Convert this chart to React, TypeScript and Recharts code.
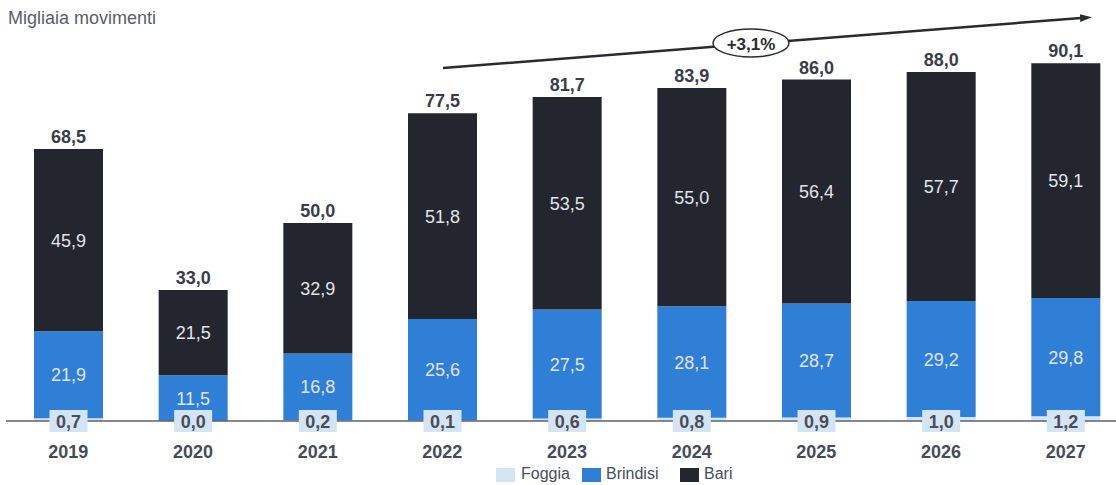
import React from 'react'
import { BarChart, Bar, XAxis, YAxis, LabelList } from 'recharts'

const years = ['2019', '2020', '2021', '2022', '2023', '2024', '2025', '2026', '2027']
const foggia = [0.7, 0.0, 0.2, 0.1, 0.6, 0.8, 0.9, 1.0, 1.2]
const brindisi = [21.9, 11.5, 16.8, 25.6, 27.5, 28.1, 28.7, 29.2, 29.8]
const bari = [45.9, 21.5, 32.9, 51.8, 53.5, 55.0, 56.4, 57.7, 59.1]
const totals = [68.5, 33.0, 50.0, 77.5, 81.7, 83.9, 86.0, 88.0, 90.1]
const cagr = '+3,1%'

const COLORS = {
  Foggia: '#d3e5f5',
  Brindisi: '#2f7fd6',
  Bari: '#23252f',
}

const FONT = '"Liberation Sans", Arial, sans-serif'
const fmt = (v: number) => v.toFixed(1).replace('.', ',')

const data = years.map((year, i) => ({
  year,
  Foggia: foggia[i],
  Brindisi: brindisi[i],
  Bari: bari[i],
}))

const InsideLabel = (props: any) => {
  const { x, y, width, height, value } = props
  return (
    <text
      x={x + width / 2}
      y={y + height / 2}
      dy={6.5}
      textAnchor="middle"
      fill="#e2e4e8"
      fontSize={18}
      fontFamily={FONT}
    >
      {fmt(value)}
    </text>
  )
}

const TotalLabel = (props: any) => {
  const { x, y, width, index } = props
  return (
    <text
      x={x + width / 2}
      y={y - 6}
      textAnchor="middle"
      fill="#3a3d48"
      fontSize={18}
      fontWeight="bold"
      fontFamily={FONT}
    >
      {fmt(totals[index])}
    </text>
  )
}

// Foggia is tiny: its label sits in a pale box on the baseline.
// Drawn from the Brindisi bar so that zero values still get a label.
const FoggiaLabel = (props: any) => {
  const { x, y, width, height, index } = props
  const cx = x + width / 2
  const pxPerUnit = height / brindisi[index]
  const base = y + height + foggia[index] * pxPerUnit
  return (
    <g>
      <rect x={cx - 19} y={base - 11} width={38} height={22} fill={COLORS.Foggia} />
      <text
        x={cx}
        y={base + 6.5}
        textAnchor="middle"
        fill="#4a4d58"
        fontSize={18}
        fontWeight="bold"
        fontFamily={FONT}
      >
        {fmt(foggia[index])}
      </text>
    </g>
  )
}

const YearTick = (props: any) => {
  const { x, y, payload } = props
  return (
    <text
      x={x}
      y={y + 29}
      textAnchor="middle"
      fill="#474b57"
      fontSize={18}
      fontWeight="bold"
      fontFamily={FONT}
    >
      {payload.value}
    </text>
  )
}

const legendItems = [
  { name: 'Foggia', left: 496, textLeft: 521 },
  { name: 'Brindisi', left: 582, textLeft: 606 },
  { name: 'Bari', left: 680, textLeft: 704 },
]

export default function App() {
  return (
    <div style={{ position: 'absolute', left: 0, top: 0, width: 1116, height: 485, background: '#fff', fontFamily: FONT }}>
      <div style={{ position: 'absolute', left: 8, top: 8, fontSize: 18, color: '#5a5d68' }}>Migliaia movimenti</div>

      <BarChart
        width={1116}
        height={485}
        data={data}
        margin={{ top: 24, right: -12, bottom: 24, left: 6 }}
        barSize={69}
      >
        <XAxis
          dataKey="year"
          height={40}
          axisLine={{ stroke: '#5e616b', strokeWidth: 1.5 }}
          tickLine={false}
          tick={<YearTick />}
          interval={0}
        />
        <YAxis hide domain={[0, 100]} />
        <Bar dataKey="Foggia" stackId="a" fill={COLORS.Foggia} isAnimationActive={false} />
        <Bar dataKey="Brindisi" stackId="a" fill={COLORS.Brindisi} isAnimationActive={false}>
          <LabelList dataKey="Brindisi" content={<InsideLabel />} />
          <LabelList dataKey="Brindisi" content={<FoggiaLabel />} />
        </Bar>
        <Bar dataKey="Bari" stackId="a" fill={COLORS.Bari} isAnimationActive={false}>
          <LabelList dataKey="Bari" content={<InsideLabel />} />
          <LabelList dataKey="Bari" content={<TotalLabel />} />
        </Bar>
      </BarChart>

      {/* CAGR arrow */}
      <svg width={1116} height={485} style={{ position: 'absolute', left: 0, top: 0, pointerEvents: 'none' }}>
        <defs>
          <marker id="arrow" markerWidth="12" markerHeight="10" refX="1" refY="5" orient="auto" markerUnits="userSpaceOnUse">
            <path d="M0,1 L12,5 L0,9 Z" fill="#2a2b30" />
          </marker>
        </defs>
        <line x1={443} y1={68} x2={1081} y2={18} stroke="#2a2b30" strokeWidth={2.5} markerEnd="url(#arrow)" />
        <ellipse cx={751} cy={43} rx={38} ry={14} fill="#fff" stroke="#2a2b30" strokeWidth={1.5} />
        <text x={751} y={49.5} textAnchor="middle" fontSize={17} fontWeight="bold" fill="#2a2b30" fontFamily={FONT}>
          {cagr}
        </text>
      </svg>

      {/* legend */}
      {legendItems.map((it) => (
        <React.Fragment key={it.name}>
          <div
            style={{
              position: 'absolute',
              left: it.left,
              top: 468,
              width: 19,
              height: 14,
              background: COLORS[it.name as keyof typeof COLORS],
            }}
          />
          <div style={{ position: 'absolute', left: it.textLeft, top: 465, fontSize: 16, color: '#4a4d58' }}>{it.name}</div>
        </React.Fragment>
      ))}
    </div>
  )
}
